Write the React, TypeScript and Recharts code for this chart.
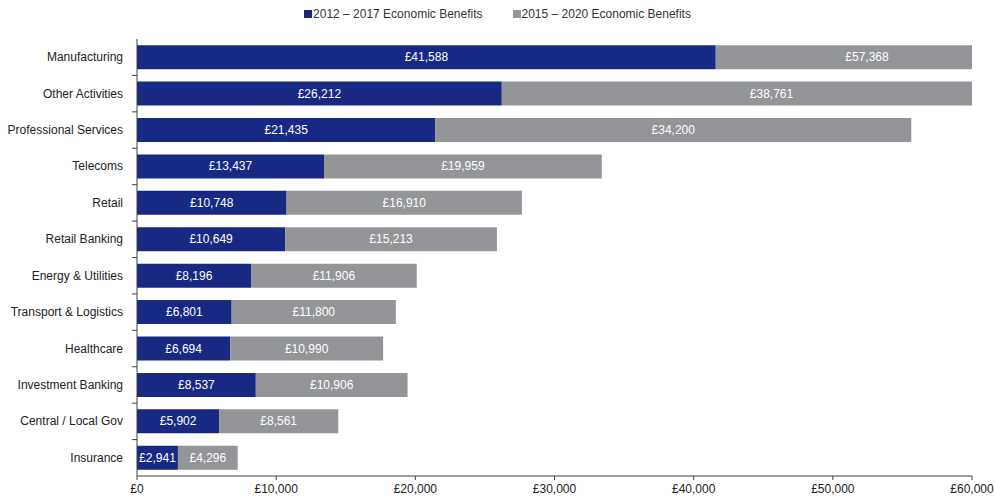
import { BarChart, Bar, XAxis, YAxis, Legend, LabelList } from "recharts";

const categories = [
  "Manufacturing", "Other Activities", "Professional Services", "Telecoms", "Retail",
  "Retail Banking", "Energy & Utilities", "Transport & Logistics", "Healthcare",
  "Investment Banking", "Central / Local Gov", "Insurance",
];
const benefits2012 = [41588, 26212, 21435, 13437, 10748, 10649, 8196, 6801, 6694, 8537, 5902, 2941];
const benefits2015 = [57368, 38761, 34200, 19959, 16910, 15213, 11906, 11800, 10990, 10906, 8561, 4296];
const xTicks = [0, 10000, 20000, 30000, 40000, 50000, 60000];
const seriesNames = ["2012 – 2017 Economic Benefits", "2015 – 2020 Economic Benefits"];

const data = categories.map((name, i) => ({ name, a: benefits2012[i], b: benefits2015[i] }));

const FONT = '"Liberation Sans Narrow", "Arial Narrow", "Liberation Sans", Arial, sans-serif';
const BLUE = "#172983";
const GREY = "#939598";
const W = 995, H = 501;
const AXIS_X = 137, PLOT_RIGHT = 972, PLOT_TOP = 39, PLOT_BOTTOM = 476;
const X_MAX = 60000;
const LEGEND_H = 16;
const BAND = (PLOT_BOTTOM - PLOT_TOP) / categories.length;
const PX_PER_UNIT = (PLOT_RIGHT - AXIS_X) / X_MAX;

const money = (v: number) => "£" + v.toLocaleString("en-GB");

const CatTick = (props: any) => {
  const { y, payload, index } = props;
  return (
    <g>
      {index > 0 && (
        <line x1={AXIS_X - 5} x2={AXIS_X} y1={y - BAND / 2} y2={y - BAND / 2} stroke="#404040" />
      )}
      <text x={AXIS_X - 14} y={y} dy={4} textAnchor="end" fontSize={12} fill="#222" fontFamily={FONT}>
        {payload.value}
      </text>
    </g>
  );
};

// label sits at the middle of the full (unclipped) segment, kept inside the plot
const BarLabel = (props: any) => {
  const { x, y, height, value } = props;
  const cx = Math.min(x + (value * PX_PER_UNIT) / 2, PLOT_RIGHT - 105);
  return (
    <text x={cx} y={y + height / 2} dy={4} textAnchor="middle" fontSize={12} fill="#fff" fontFamily={FONT}>
      {money(value)}
    </text>
  );
};

const LegendBox = () => (
  <div style={{ display: "flex", justifyContent: "center", gap: 30, fontFamily: FONT, fontSize: 12, color: "#333", height: LEGEND_H, lineHeight: LEGEND_H + "px" }}>
    {[BLUE, GREY].map((c, i) => (
      <span key={i} style={{ display: "flex", alignItems: "center" }}>
        <span style={{ display: "inline-block", width: 8, height: 8, background: c, marginRight: 1 }} />
        {seriesNames[i]}
      </span>
    ))}
  </div>
);

export default function App() {
  return (
    <div style={{ position: "absolute", left: 0, top: 0, background: "#fff" }}>
      <BarChart
        width={W}
        height={H}
        data={data}
        layout="vertical"
        barCategoryGap="17%"
        margin={{ top: PLOT_TOP - LEGEND_H, right: W - PLOT_RIGHT, bottom: 0, left: 0 }}
      >
        <Legend verticalAlign="top" align="center" content={LegendBox} wrapperStyle={{ top: 6, left: 0, width: W }} />
        <XAxis
          type="number"
          domain={[0, X_MAX]}
          ticks={xTicks}
          allowDataOverflow
          tickFormatter={money}
          height={H - PLOT_BOTTOM}
          tick={{ fontSize: 12, fill: "#222", fontFamily: FONT }}
          tickSize={4}
          tickMargin={4}
          stroke="#404040"
          interval={0}
        />
        <YAxis
          type="category"
          dataKey="name"
          width={AXIS_X}
          tick={<CatTick />}
          tickLine={false}
          stroke="#404040"
          interval={0}
        />
        <Bar dataKey="a" stackId="s" fill={BLUE} name={seriesNames[0]} isAnimationActive={false}>
          <LabelList dataKey="a" content={BarLabel} />
        </Bar>
        <Bar dataKey="b" stackId="s" fill={GREY} name={seriesNames[1]} isAnimationActive={false}>
          <LabelList dataKey="b" content={BarLabel} />
        </Bar>
      </BarChart>
    </div>
  );
}
